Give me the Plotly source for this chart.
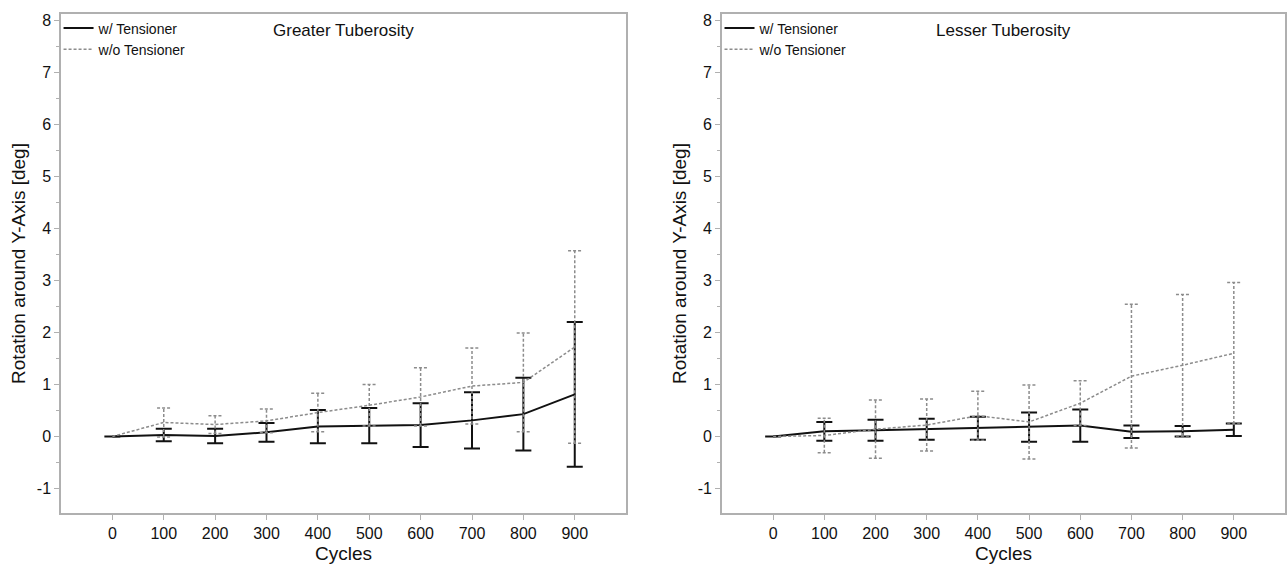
import plotly.graph_objects as go

# ---------------- data ----------------
cycles = [0, 100, 200, 300, 400, 500, 600, 700, 800, 900]

gt_with_mean = [0, 0.03, 0.01, 0.08, 0.19, 0.21, 0.22, 0.31, 0.43, 0.81]
gt_with_sd = [0, 0.12, 0.14, 0.18, 0.32, 0.34, 0.42, 0.54, 0.70, 1.39]
gt_without_mean = [0, 0.27, 0.23, 0.30, 0.46, 0.60, 0.76, 0.97, 1.04, 1.72]
gt_without_sd = [0, 0.28, 0.17, 0.23, 0.37, 0.40, 0.56, 0.73, 0.95, 1.85]

lt_with_mean = [0, 0.10, 0.12, 0.14, 0.16, 0.18, 0.21, 0.09, 0.10, 0.13]
lt_with_sd = [0, 0.18, 0.20, 0.20, 0.22, 0.28, 0.31, 0.12, 0.10, 0.12]
lt_without_mean = [0, 0.02, 0.14, 0.22, 0.40, 0.28, 0.64, 1.16, 1.37, 1.60]
lt_without_sd = [0, 0.33, 0.56, 0.50, 0.47, 0.71, 0.43, 1.38, 1.36, 1.36]

panel_titles = ["Greater Tuberosity", "Lesser Tuberosity"]
series_names = ["w/ Tensioner", "w/o Tensioner"]
x_tick_vals = cycles
y_tick_vals = [-1, 0, 1, 2, 3, 4, 5, 6, 7, 8]
y_tick_text = ["-1", "0", "1", "2", "3", "4", "5", "6", "7", "8"]

# ---------------- style ----------------
FONT = "Liberation Sans, Arial, Helvetica, sans-serif"
BLACK = "#111111"
GREY = "#8c8c8c"
AXIS = "#b0b0b0"
CAP_HALF = 13  # half cap width in x-units (style)

fig = go.Figure()


def dashed_errorbars(x, mean, sd, xa, ya):
    xs, ys = [], []
    for xi, m, s in zip(x, mean, sd):
        if s <= 0:
            continue
        lo, hi = m - s, m + s
        xs += [xi, xi, None, xi - CAP_HALF, xi + CAP_HALF, None, xi - CAP_HALF, xi + CAP_HALF, None]
        ys += [lo, hi, None, hi, hi, None, lo, lo, None]
    return go.Scatter(x=xs, y=ys, mode="lines", xaxis=xa, yaxis=ya,
                      line=dict(color=GREY, width=1.5, dash="3px,2px"),
                      showlegend=False, hoverinfo="skip")


panels = [
    ("x", "y", "legend", gt_with_mean, gt_with_sd, gt_without_mean, gt_without_sd),
    ("x2", "y2", "legend2", lt_with_mean, lt_with_sd, lt_without_mean, lt_without_sd),
]

for xa, ya, lg, wm, ws, om, osd in panels:
    fig.add_trace(go.Scatter(
        x=cycles, y=wm, mode="lines", name=series_names[0], xaxis=xa, yaxis=ya,
        legend=lg, line=dict(color=BLACK, width=2),
        error_y=dict(type="data", array=[s if s > 0 else None for s in ws],
                     visible=True, color=BLACK, thickness=2, width=8),
    ))
    fig.add_trace(dashed_errorbars(cycles, om, osd, xa, ya))
    fig.add_trace(go.Scatter(
        x=cycles, y=om, mode="lines", name=series_names[1], xaxis=xa, yaxis=ya,
        legend=lg, line=dict(color=GREY, width=1.5, dash="3px,2px"),
    ))

xcommon = dict(range=[-100, 1000], tickvals=x_tick_vals, ticks="outside", ticklen=5,
               tickcolor=AXIS, tickwidth=1, showline=True, mirror=True, linecolor=AXIS,
               linewidth=1.5, showgrid=False, zeroline=False,
               tickfont=dict(size=16, color="#111"),
               title=dict(text="Cycles", font=dict(size=19, color="#111"), standoff=6))
ycommon = dict(range=[-1.47, 8.12], tickvals=y_tick_vals, ticktext=y_tick_text,
               ticks="outside", ticklen=5,
               tickcolor=AXIS, tickwidth=1, showline=True, mirror=True, linecolor=AXIS,
               linewidth=1.5, showgrid=False, zeroline=False,
               minor=dict(dtick=0.5, tick0=0, ticks="outside", ticklen=3, tickcolor=AXIS),
               tickfont=dict(size=16, color="#111"),
               title=dict(text="Rotation around Y-Axis [deg]", font=dict(size=19, color="#111"), standoff=6))

fig.update_layout(
    width=1288, height=567,
    margin=dict(l=61, r=1, t=14, b=54),
    paper_bgcolor="white", plot_bgcolor="white",
    font=dict(family=FONT, color="#111"),
    xaxis=dict(domain=[0, 0.4617], anchor="y", **xcommon),
    yaxis=dict(domain=[0, 1], anchor="x", **ycommon),
    xaxis2=dict(domain=[0.54, 1.0], anchor="y2", **xcommon),
    yaxis2=dict(domain=[0, 1], anchor="x2", **ycommon),
    legend=dict(x=-0.002, y=1.003, xanchor="left", yanchor="top", bgcolor="rgba(0,0,0,0)",
                font=dict(size=14, color="#111"), itemwidth=30, tracegroupgap=0),
    legend2=dict(x=0.538, y=1.003, xanchor="left", yanchor="top", bgcolor="rgba(0,0,0,0)",
                 font=dict(size=14, color="#111"), itemwidth=30, tracegroupgap=0),
    showlegend=True,
)

for i, t in enumerate(panel_titles):
    xa = "x" if i == 0 else "x2"
    ya = "y" if i == 0 else "y2"
    fig.add_annotation(text=t, x=450, xref=xa, y=0.966, yref=ya + " domain",
                       showarrow=False, xanchor="center", yanchor="middle",
                       font=dict(size=17, color="#111"))

fig.write_html("out.html")
